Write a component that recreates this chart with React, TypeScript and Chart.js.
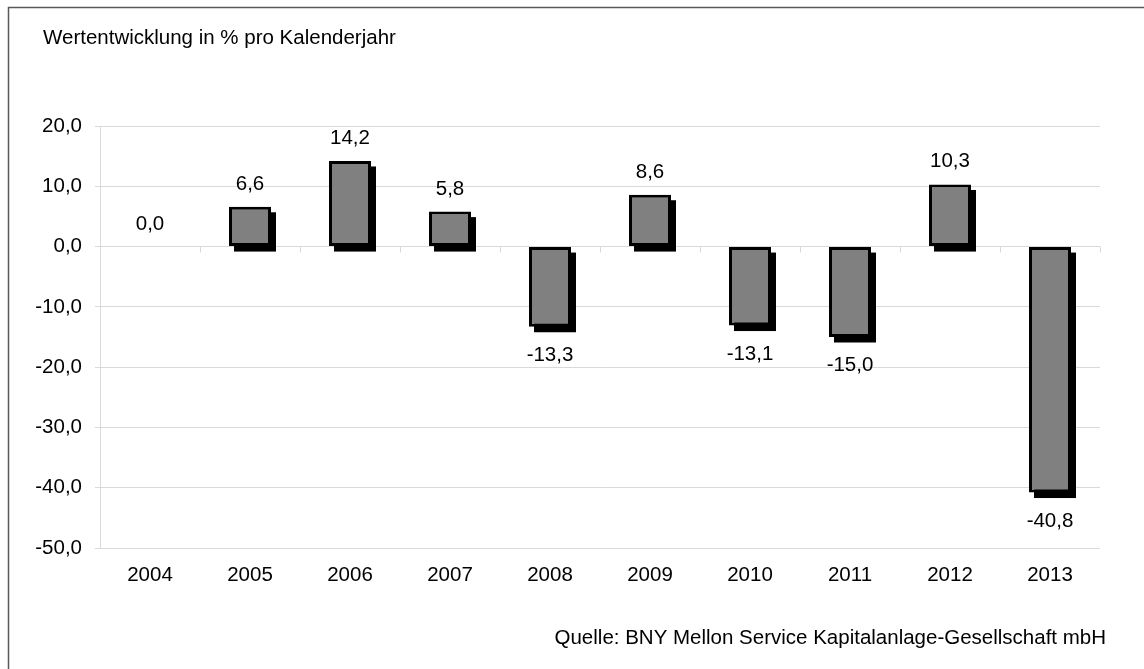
import React, { useEffect, useRef } from "react";
import { Chart, registerables } from "chart.js";

Chart.register(...registerables);

const years = ["2004", "2005", "2006", "2007", "2008", "2009", "2010", "2011", "2012", "2013"];
const performance = [0.0, 6.6, 14.2, 5.8, -13.3, 8.6, -13.1, -15.0, 10.3, -40.8];
const yMin = -50;
const yMax = 20;
const yStep = 10;
const titleText = "Wertentwicklung in % pro Kalenderjahr";
const sourceText = "Quelle: BNY Mellon Service Kapitalanlage-Gesellschaft mbH";

const FONT = "Liberation Sans, Arial, sans-serif";
const FS = 20.5;
const fmt = (v: number) => v.toFixed(1).replace(".", ",");

const decorPlugin = {
  id: "decor",
  beforeDatasetsDraw(chart: any) {
    const ctx = chart.ctx;
    const meta = chart.getDatasetMeta(0);
    const y = chart.scales.y;
    const area = chart.chartArea;
    const y0 = y.getPixelForValue(0);
    ctx.save();
    ctx.strokeStyle = "#d9d9d9";
    ctx.lineWidth = 1;
    const n = years.length;
    const w = (area.right - area.left) / n;
    for (let i = 0; i <= n; i++) {
      const px = Math.round(area.left + i * w) + 0.5;
      ctx.beginPath();
      ctx.moveTo(px, y0);
      ctx.lineTo(px, y0 + 6);
      ctx.stroke();
    }
    ctx.fillStyle = "#000";
    meta.data.forEach((bar: any, i: number) => {
      if (performance[i] === 0) return;
      const p = bar.getProps(["x", "y", "base", "width"], true);
      const left = p.x - p.width / 2;
      const top = Math.min(p.y, p.base);
      const h = Math.abs(p.base - p.y);
      ctx.fillRect(left + 5, top + 5.5, p.width, h);
    });
    ctx.restore();
  },
  afterDatasetsDraw(chart: any) {
    const ctx = chart.ctx;
    const meta = chart.getDatasetMeta(0);
    ctx.save();
    ctx.font = `${FS}px ${FONT}`;
    ctx.fillStyle = "#000";
    ctx.textAlign = "center";
    ctx.textBaseline = "alphabetic";
    meta.data.forEach((bar: any, i: number) => {
      const v = performance[i];
      const p = bar.getProps(["x", "y", "base"], true);
      if (v >= 0) {
        ctx.fillText(fmt(v), p.x, p.y - 17);
      } else {
        ctx.fillText(fmt(v), p.x, p.y + 34);
      }
    });
    ctx.restore();
  },
  afterDraw(chart: any) {
    const ctx = chart.ctx;
    ctx.save();
    ctx.font = `${FS}px ${FONT}`;
    ctx.fillStyle = "#000";
    ctx.textBaseline = "alphabetic";
    ctx.textAlign = "left";
    ctx.fillText(titleText, 43, 44);
    ctx.textAlign = "right";
    ctx.fillText(sourceText, 1106, 644);
    ctx.strokeStyle = "#595959";
    ctx.lineWidth = 1.5;
    ctx.beginPath();
    ctx.moveTo(8.5, 680);
    ctx.lineTo(8.5, 7.5);
    ctx.lineTo(1150, 7.5);
    ctx.stroke();
    ctx.restore();
  },
};

export default function App() {
  const ref = useRef<HTMLCanvasElement | null>(null);
  useEffect(() => {
    if (!ref.current) return;
    const chart = new Chart(ref.current, {
      type: "bar",
      data: {
        labels: years,
        datasets: [
          {
            data: performance,
            backgroundColor: "#808080",
            borderColor: "#000000",
            borderWidth: 3,
            borderSkipped: false,
            barPercentage: 0.42,
            categoryPercentage: 1,
          },
        ],
      },
      options: {
        animation: false,
        responsive: true,
        maintainAspectRatio: false,
        layout: { padding: { left: 0, right: 44, top: 126, bottom: 0 } },
        plugins: {
          legend: { display: false },
          tooltip: { enabled: false },
          title: { display: false },
        },
        scales: {
          x: {
            grid: { display: false, drawTicks: false },
            border: { display: false },
            ticks: {
              color: "#000",
              font: { family: FONT, size: FS },
              padding: 15,
              maxRotation: 0,
            },
            afterFit: (s: any) => {
              s.height = 121;
            },
          },
          y: {
            min: yMin,
            max: yMax,
            grid: { color: "#d9d9d9", lineWidth: 1, tickLength: 5, drawTicks: true },
            border: { display: true, color: "#d9d9d9", width: 1 },
            ticks: {
              stepSize: yStep,
              color: "#000",
              font: { family: FONT, size: FS },
              padding: 13,
              callback: (v: any) => fmt(Number(v)),
            },
            afterFit: (s: any) => {
              s.width = 100;
            },
          },
        },
      },
      plugins: [decorPlugin],
    });
    return () => chart.destroy();
  }, []);
  return (
    <div style={{ position: "absolute", left: 0, top: 0, width: 1144, height: 669, background: "#fff" }}>
      <canvas ref={ref} />
    </div>
  );
}
